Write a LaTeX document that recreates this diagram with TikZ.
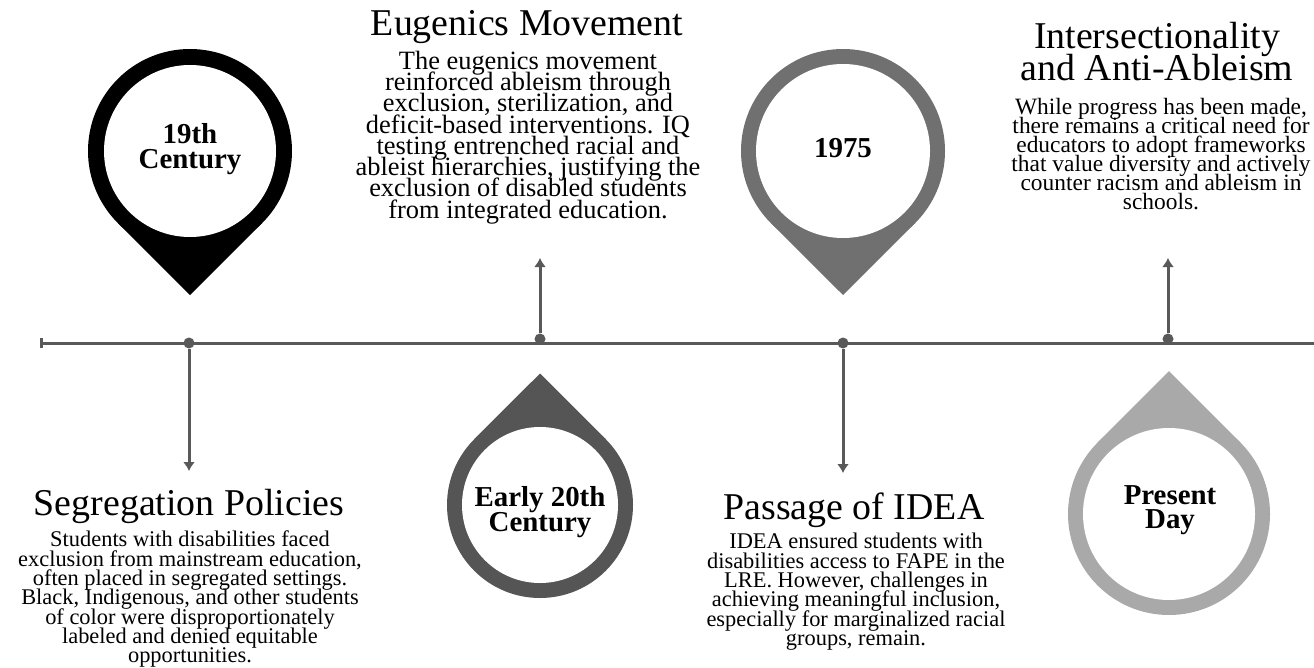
\documentclass[tikz,border=0pt]{standalone}
\usepackage{fontspec}
\usetikzlibrary{arrows.meta}
\setmainfont{Liberation Serif}
\setlength{\lineskiplimit}{-50pt}
\definecolor{linegray}{HTML}{595959}
\definecolor{pingrayA}{HTML}{555555}
\definecolor{pingrayB}{HTML}{707070}
\definecolor{pingrayC}{HTML}{A9A9A9}
\tikzset{
  titletext/.style={font=\fontsize{38}{32}\selectfont,inner sep=0pt,align=center},
  bodytext/.style={font=\fontsize{22.5}{19.4}\selectfont,inner sep=0pt,align=center},
  bigtext/.style={font=\fontsize{26.5}{21.3}\selectfont,inner sep=0pt,align=center},
  sidetext/.style={font=\fontsize{23.5}{19}\selectfont,inner sep=0pt,align=center},
  pintext/.style={font=\bfseries\fontsize{29}{24.5}\selectfont,inner sep=0pt,align=center},
  dot/.style={circle,fill=linegray,inner sep=0pt,minimum size=11bp},
  link/.style={linegray,line width=3bp},
}
\begin{document}
\begin{tikzpicture}[>={Latex[width=12bp,length=9bp]},x=1bp,y=-1bp]
\useasboundingbox (0,0) rectangle (1314,667);
%%
\fill[black] (190,151) circle (102bp);
\fill[black] (190,295) -- (117.9,223.1) -- (190,151) -- (262.1,223.1) -- cycle;
\fill[white] (190,151) circle (86bp);
\node (node_pin_0) at (190,149) [pintext] {19th\\Century};
%
\fill[pingrayA] (540,505) circle (93bp);
\fill[pingrayA] (540,373.5) -- (474.2,439.2) -- (540,505) -- (605.8,439.2) -- cycle;
\fill[white] (540,505) circle (78bp);
\node (node_pin_1) at (540,512) [pintext] {Early 20th\\Century};
%
\fill[pingrayB] (843,151) circle (102bp);
\fill[pingrayB] (843,295) -- (770.9,223.1) -- (843,151) -- (915.1,223.1) -- cycle;
\fill[white] (843,151) circle (87bp);
\node (node_pin_2) at (843,148) [pintext] {1975};
%
\fill[pingrayC] (1169,514) circle (101bp);
\fill[pingrayC] (1169,371.2) -- (1097.6,442.6) -- (1169,514) -- (1240.4,442.6) -- cycle;
\fill[white] (1169,514) circle (86bp);
\node (node_pin_3) at (1170,510) [pintext] {Present\\Day};
%%
\coordinate (line_start) at (40,343);
\coordinate (line_end) at (1314,343);
\draw[link,{Bar[width=10bp]}-] (line_start) -- (line_end);
\node (node_dot_0) at (189,343) [dot] {};
\node (node_dot_1) at (540,339) [dot] {};
\node (node_dot_2) at (843,343) [dot] {};
\node (node_dot_3) at (1168,339) [dot] {};
\coordinate (end_0) at (189,471);
\coordinate (end_1) at (540,258);
\coordinate (end_2) at (843,473);
\coordinate (end_3) at (1168,258);
\draw[link,->] (node_dot_0) -- (end_0);
\draw[link,->] (node_dot_1) -- (end_1);
\draw[link,->] (node_dot_2) -- (end_2);
\draw[link,->] (node_dot_3) -- (end_3);
%%
\node (node_title_0) at (189,515) [titletext,anchor=base] {Segregation Policies};
\node (node_text_0) at (190,531) [bodytext,anchor=north] {Students with disabilities faced\\exclusion from mainstream education,\\often placed in segregated settings.\\Black, Indigenous, and other students\\of color were disproportionately\\labeled and denied equitable\\opportunities.};
%
\node (node_title_1) at (527,36) [titletext,anchor=base] {Eugenics Movement};
\node (node_text_1) at (528,51) [bigtext,anchor=north] {The eugenics movement\\reinforced ableism through\\exclusion, sterilization, and\\deficit-based interventions. IQ\\testing entrenched racial and\\ableist hierarchies, justifying the\\exclusion of disabled students\\from integrated education.};
%
\node (node_title_2) at (854,519) [titletext,anchor=base] {Passage of IDEA};
\node (node_text_2) at (856,533) [bodytext,anchor=north] {IDEA ensured students with\\disabilities access to FAPE in the\\LRE. However, challenges in\\achieving meaningful inclusion,\\especially for marginalized racial\\groups, remain.};
%
\node (node_title_3) at (1157,22) [titletext,anchor=north] {Intersectionality\\and Anti-Ableism};
\node (node_text_3) at (1161,98) [sidetext,anchor=north] {While progress has been made,\\there remains a critical need for\\educators to adopt frameworks\\that value diversity and actively\\counter racism and ableism in\\schools.};
%
\end{tikzpicture}
\end{document}
